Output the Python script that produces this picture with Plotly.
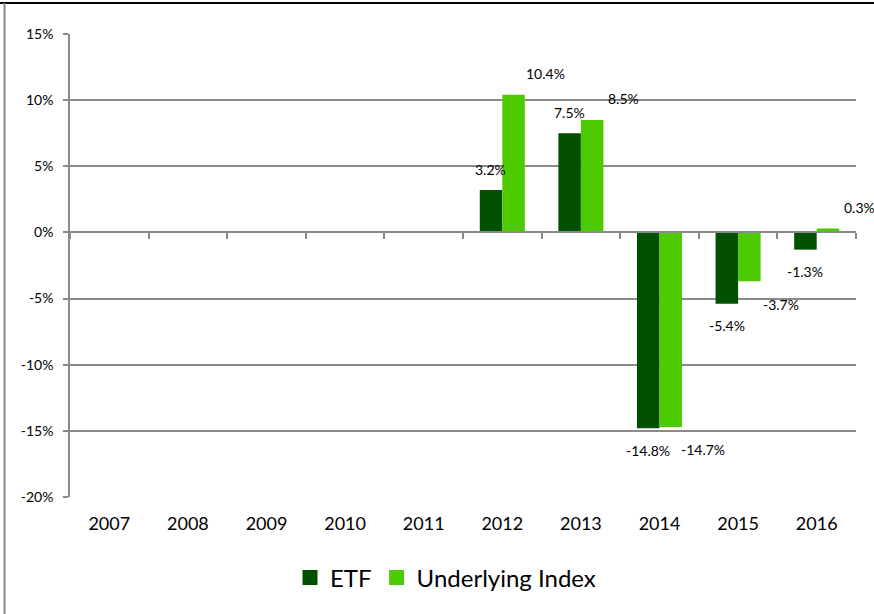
import plotly.graph_objects as go

years = ["2007", "2008", "2009", "2010", "2011", "2012", "2013", "2014", "2015", "2016"]
etf = [None, None, None, None, None, 3.2, 7.5, -14.8, -5.4, -1.3]
index = [None, None, None, None, None, 10.4, 8.5, -14.7, -3.7, 0.3]
y_tickvals = [15, 10, 5, 0, -5, -10, -15, -20]
y_ticktext = ["15%", "10%", "5%", "0%", "-5%", "-10%", "-15%", "-20%"]

ETF_COLOR = "#005000"
IDX_COLOR = "#4ECB00"
GRID = "#8a8a8a"
FONT = "Lato"

W, H = 874, 614
ML, MR, MT, MB = 70, 18, 34, 117
pw, ph = W - ML - MR, H - MT - MB

fig = go.Figure()
fig.add_trace(go.Bar(x=years, y=etf, name="ETF", showlegend=False,
                     marker=dict(color=ETF_COLOR, line=dict(width=0))))
fig.add_trace(go.Bar(x=years, y=index, name="Underlying Index", showlegend=False,
                     marker=dict(color=IDX_COLOR, line=dict(width=0))))
# legend entries with larger square swatches
fig.add_trace(go.Scatter(x=[None], y=[None], mode="markers", name="ETF",
                         marker=dict(symbol="square", size=15, color=ETF_COLOR)))
fig.add_trace(go.Scatter(x=[None], y=[None], mode="markers", name="Underlying Index",
                         marker=dict(symbol="square", size=15, color=IDX_COLOR)))
# invisible trace to carry the zero-line axis with boundary ticks
fig.add_trace(go.Scatter(x=years, y=[0] * len(years), xaxis="x2", mode="markers",
                         marker=dict(opacity=0), showlegend=False, hoverinfo="skip"))

annotations = []
for i, v in enumerate(etf):
    if v is None:
        continue
    annotations.append(dict(x=i, y=v, text=f"{v:.1f}%", showarrow=False, xref="x", yref="y",
                            xshift=-11.5, yshift=21 if v >= 0 else -22,
                            font=dict(family=FONT, size=14, color="#000")))
for i, v in enumerate(index):
    if v is None:
        continue
    annotations.append(dict(x=i, y=v, text=f"{v:.1f}%", showarrow=False, xref="x", yref="y",
                            xshift=43, yshift=21 if v >= 0 else -23,
                            font=dict(family=FONT, size=14, color="#000")))

def px2x(px):
    return (px - ML) / pw

def py2y(py):
    return (H - MB - py) / ph

shapes = [
    dict(type="line", xref="paper", yref="paper", x0=px2x(0), x1=px2x(W), y0=py2y(3), y1=py2y(3),
         line=dict(color="#000000", width=2)),
    dict(type="line", xref="paper", yref="paper", x0=px2x(4.5), x1=px2x(4.5), y0=py2y(3), y1=py2y(H),
         line=dict(color="#8a8a8a", width=2)),
]

fig.update_layout(
    width=W, height=H,
    margin=dict(l=ML, r=MR, t=MT, b=MB, autoexpand=False),
    paper_bgcolor="white", plot_bgcolor="white",
    barmode="group", bargap=0.427, bargroupgap=0,
    font=dict(family=FONT, color="#000"),
    showlegend=True,
    legend=dict(orientation="h", x=px2x(290), xanchor="left", y=py2y(578), yanchor="middle",
                font=dict(family=FONT, size=24, color="#000"), itemwidth=30,
                traceorder="normal", itemsizing="trace"),
    xaxis=dict(type="category", categoryorder="array", categoryarray=years, range=[-0.5, 9.5],
               showgrid=False, showline=False, ticks="", zeroline=False,
               tickfont=dict(family=FONT, size=18, color="#000"), ticklabelstandoff=14),
    xaxis2=dict(type="category", categoryorder="array", categoryarray=years, range=[-0.5, 9.5],
                overlaying="x", anchor="free", position=20 / 35, side="bottom",
                showline=True, linecolor=GRID, linewidth=1.5,
                ticks="outside", ticklen=6, tickcolor=GRID, tickwidth=1.5, tickson="boundaries",
                showticklabels=False, showgrid=False, zeroline=False),
    yaxis=dict(range=[-20, 15], tickvals=y_tickvals, ticktext=y_ticktext,
               showgrid=True, gridcolor=GRID, gridwidth=1.5, zeroline=False,
               showline=True, linecolor=GRID, linewidth=1.5,
               ticks="outside", ticklen=5, tickcolor=GRID, tickwidth=1.5, ticklabelstandoff=7,
               tickfont=dict(family=FONT, size=14, color="#000")),
    annotations=annotations,
    shapes=shapes,
)

fig.write_html("out.html", config={"displayModeBar": False},
               post_script="document.body.style.margin='0';")
